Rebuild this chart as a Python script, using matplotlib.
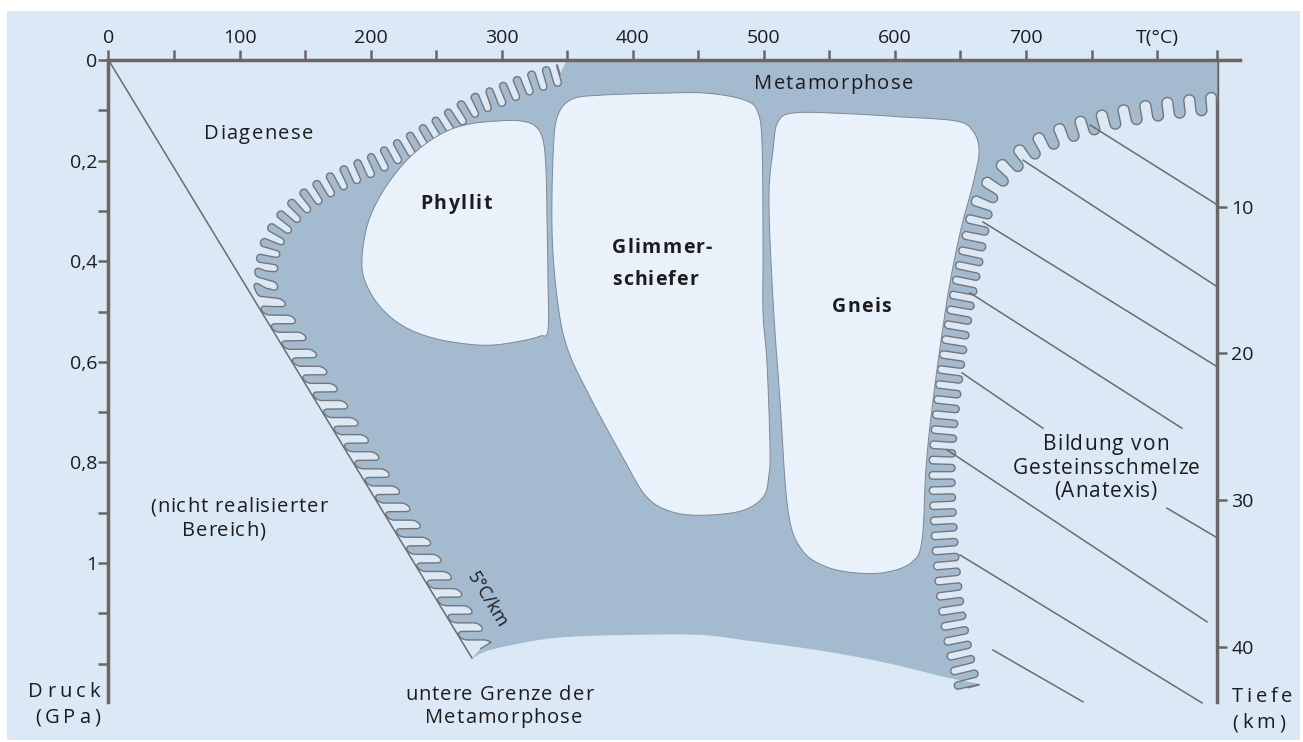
import numpy as np
import matplotlib
matplotlib.use("Agg")
import matplotlib.pyplot as plt
import matplotlib.transforms as mtransforms
from matplotlib.patches import Polygon, Rectangle
from matplotlib.font_manager import FontProperties, findfont, get_font

FONT = 'Open Sans'
plt.rcParams['font.family'] = [FONT, 'DejaVu Sans']

W, H, DPI = 1303, 742, 100

# ---------------- data (temperature in °C, pressure in GPa) ----------------
temp_ticks = [0, 100, 200, 300, 400, 500, 600, 700, 800]
temp_labels = ['0', '100', '200', '300', '400', '500', '600', '700', 'T(°C)']
temp_minor = [50, 150, 250, 350, 450, 550, 650, 750]
press_ticks = [0, 0.2, 0.4, 0.6, 0.8, 1.0]
press_labels = ['0', '0,2', '0,4', '0,6', '0,8', '1']
press_minor = [0.1, 0.3, 0.5, 0.7, 0.9, 1.1, 1.2]
depth_ticks = [10, 20, 30, 40]
depth_labels = ['10', '20', '30', '40']
KM_PER_GPA = 34.29
T_MAX, P_MAX = 863.3, 1.2763
T_DEPTH_AXIS = 846.0

# 5 °C/km line
geotherm_T = [0.0, 277.3]
geotherm_P = [0.0, 1.189]

# metamorphism field: upper-left corner on T axis
meta_top_T = 349.8

# anatexis (melting) boundary, from the right axis downwards
anat_T = [846.0, 817.5, 787.0, 756.5, 726.0, 703.1, 684.0, 672.6, 665.7, 658.9,
          651.2, 643.6, 638.3, 636.0, 637.5, 641.3, 647.4, 655.8]
anat_P = [0.0855, 0.0934, 0.105, 0.123, 0.149, 0.179, 0.219, 0.258, 0.298, 0.378,
          0.477, 0.596, 0.716, 0.815, 0.934, 1.054, 1.153, 1.248]

# lower limit of metamorphism (right -> left)
lower_T = [666.4, 642.0, 590.9, 540.6, 489.5, 451.3, 397.9, 349.8, 323.9, 291.1, 277.4]
lower_P = [1.241, 1.229, 1.197, 1.173, 1.155, 1.143, 1.143, 1.147, 1.155, 1.173, 1.189]

# diagenesis / metamorphism boundary (bottom -> top)
left_T = [284.0, 235.5, 189.2, 152.1, 124.4, 120.2, 122.5, 130.9, 148.4, 174.3,
          208.7, 249.1, 277.4, 297.2, 321.6, 344.5]
left_P = [1.170, 0.961, 0.762, 0.603, 0.484, 0.447, 0.382, 0.334, 0.284, 0.241,
          0.199, 0.139, 0.093, 0.072, 0.046, 0.028]

# rock fields
phyllit_T = [193.4, 196.5, 205.6, 220.9, 237.7, 256.8, 275.8, 298.7, 314.0, 325.4,
             331.5, 333.8, 334.6, 335.3, 335.3, 329.2, 314.0, 291.1, 268.2, 245.3,
             226.2, 211.0, 199.5]
phyllit_P = [0.412, 0.338, 0.278, 0.219, 0.175, 0.143, 0.127, 0.121, 0.121, 0.131,
             0.159, 0.219, 0.318, 0.437, 0.537, 0.549, 0.559, 0.567, 0.563, 0.551,
             0.531, 0.501, 0.461]
glimmer_T = [339.5, 343.0, 353.6, 375.0, 420.8, 456.7, 485.7, 495.6, 498.7, 499.4,
             499.4, 502.4, 504.7, 503.9, 499.4, 481.9, 449.0, 426.2, 409.4, 392.6,
             367.4, 349.8, 342.2, 338.4]
glimmer_P = [0.173, 0.109, 0.078, 0.070, 0.066, 0.066, 0.080, 0.105, 0.173, 0.372,
             0.503, 0.602, 0.769, 0.825, 0.869, 0.897, 0.905, 0.895, 0.865, 0.791,
             0.670, 0.571, 0.471, 0.338]
gneis_T = [507.0, 510.8, 523.8, 565.8, 603.9, 645.9, 658.9, 664.2, 659.7, 649.7,
           639.8, 629.1, 623.8, 620.7, 613.1, 594.0, 571.9, 548.2, 529.1, 518.4,
           512.3, 507.0, 503.9]
gneis_P = [0.179, 0.123, 0.105, 0.107, 0.113, 0.121, 0.139, 0.179, 0.245, 0.344,
           0.477, 0.676, 0.809, 0.954, 0.998, 1.018, 1.020, 1.008, 0.974, 0.895,
           0.676, 0.477, 0.278]

# melt-isolines in the anatexis field (start T, start P, end T, end P)
melt_T0 = [748.8, 697.7, 667.2, 657.3, 651.2, 807.6, 639.7, 649.7, 674.8]
melt_P0 = [0.129, 0.199, 0.322, 0.463, 0.622, 0.891, 0.775, 0.984, 1.173]
melt_T1 = [846.0, 846.0, 846.0, 819.0, 713.0, 846.0, 838.1, 834.3, 743.5]
melt_P1 = [0.288, 0.451, 0.610, 0.732, 0.732, 0.950, 1.117, 1.278, 1.276]

# texts: (string, left x px, baseline y px, width px, size pt, weight)
texts = [
    ('Diagenese', 204, 139, 109, 14.5, 'normal'),
    ('Metamorphose', 754, 89, 159, 14.5, 'normal'),
    ('Phyllit', 420, 209, 72, 14, 'bold'),
    ('Glimmer-', 612, 253, 100, 14, 'bold'),
    ('schiefer', 612, 285, 86, 14, 'bold'),
    ('Gneis', 832, 312, 59, 14, 'bold'),
    ('Bildung von', 1043, 450, 126, 15, 'normal'),
    ('Gesteinsschmelze', 1013, 474, 187, 15, 'normal'),
    ('(Anatexis)', 1054, 497, 103, 15, 'normal'),
    ('(nicht realisierter', 150, 512, 177, 14.5, 'normal'),
    ('Bereich)', 182, 536, 83, 14.5, 'normal'),
    ('untere Grenze der', 405, 700, 188, 14.5, 'normal'),
    ('Metamorphose', 425, 723, 157, 14.5, 'normal'),
    ('Druck', 28, 697, 72, 14.5, 'normal'),
    ('(GPa)', 35, 723, 65, 14.5, 'normal'),
    ('Tiefe', 1232, 702, 60, 14.5, 'normal'),
    ('(km)', 1232, 728, 53, 14.5, 'normal'),
]
geotherm_label = '5°C/km'

# ---------------- style ----------------
BG = '#dbe8f5'
META = '#a4bace'
ROCK = '#e9f1fa'
ROCK_EDGE = '#7f8893'
AXC = '#6b6563'
LINE = '#6e6b6b'
WAVE = '#74767b'
TXT = '#1c1c1c'

fig = plt.figure(figsize=(W / DPI, H / DPI), dpi=DPI, facecolor='white')
PX = mtransforms.Affine2D().scale(1, -1).translate(0, H)
fig.add_artist(Rectangle((7, 11), 1293, 729, transform=PX, facecolor=BG,
                         edgecolor='none', zorder=-10))

ax = fig.add_axes([108.5 / W, (H - 702) / H, (1240 - 108.5) / W, (702 - 60) / H])
ax.set_facecolor('none')
ax.set_xlim(0, T_MAX)
ax.set_ylim(P_MAX, 0)

# axes styling
ax.xaxis.tick_top()
ax.set_xticks(temp_ticks, temp_labels)
ax.set_xticks(temp_minor + [T_DEPTH_AXIS], minor=True)
ax.set_yticks(press_ticks, press_labels)
ax.set_yticks(press_minor, minor=True)
ax.tick_params(axis='x', which='both', direction='out', length=7.2, width=1.8,
               color=AXC, top=True, bottom=False, labeltop=True, labelbottom=False,
               pad=2.5, labelsize=14, labelcolor=TXT)
ax.tick_params(axis='y', which='both', direction='out', length=7.2, width=1.8,
               color=AXC, left=True, right=False, pad=1, labelsize=14, labelcolor=TXT)
for side in ('bottom', 'right'):
    ax.spines[side].set_visible(False)
for side in ('top', 'left'):
    ax.spines[side].set_linewidth(2.5)
    ax.spines[side].set_color(AXC)

sec = ax.secondary_yaxis(T_DEPTH_AXIS / T_MAX,
                         functions=(lambda p: p * KM_PER_GPA, lambda d: d / KM_PER_GPA))
sec.set_yticks(depth_ticks, depth_labels)
sec.tick_params(direction='out', length=7.2, width=1.8, color=AXC, labelsize=14,
                labelcolor=TXT, pad=3)
for side in ('left', 'right'):
    sec.spines[side].set_linewidth(2.5)
    sec.spines[side].set_color(AXC)


# ---------------- geometry helpers ----------------
def catmull_rom(P, closed=False, n=30):
    P = np.asarray(P, float)
    if closed:
        ext = np.vstack([P[-1], P, P[0], P[1]])
        nseg = len(P)
    else:
        ext = np.vstack([2 * P[0] - P[1], P, 2 * P[-1] - P[-2]])
        nseg = len(P) - 1
    t = np.linspace(0, 1, n, endpoint=False)[:, None]
    out, us = [], []
    for i in range(nseg):
        p0, p1, p2, p3 = ext[i], ext[i + 1], ext[i + 2], ext[i + 3]
        seg = 0.5 * (2 * p1 + (-p0 + p2) * t + (2 * p0 - 5 * p1 + 4 * p2 - p3) * t ** 2
                     + (-p0 + 3 * p1 - 3 * p2 + p3) * t ** 3)
        out.append(seg)
        us.append(i + t[:, 0])
    if closed:
        out.append(P[:1]); us.append(np.array([float(nseg)]))
    else:
        out.append(P[-1:]); us.append(np.array([float(nseg)]))
    return np.vstack(out), np.concatenate(us)


def smooth(T, P, closed=False):
    disp = ax.transData.transform(np.c_[T, P])
    xy, _ = catmull_rom(disp, closed=closed)
    return ax.transData.inverted().transform(xy)


def serpentine(T, P, knots, amps, lams, shears):
    """Meandering boundary (rounded finger lobes) around a smooth mid-line."""
    disp = ax.transData.transform(np.c_[T, P])
    xy, u = catmull_rom(disp)
    d = np.r_[0, np.cumsum(np.hypot(*np.diff(xy, axis=0).T))]
    L = d[-1]
    s = np.linspace(0, L, int(L * 2) + 2)
    mx, my = np.interp(s, d, xy[:, 0]), np.interp(s, d, xy[:, 1])
    uu = np.interp(s, d, u)
    tang = np.gradient(np.c_[mx, my], axis=0)
    tang /= np.hypot(tang[:, 0], tang[:, 1])[:, None]
    nrm = np.c_[tang[:, 1], -tang[:, 0]]
    th1 = np.linspace(np.pi, 0, 18)
    th2 = np.linspace(np.pi, 2 * np.pi, 18)
    lt, ln, lsh = [], [], []
    t0 = 0.0
    while t0 < L:
        uk = np.interp(t0, s, uu)
        a = np.interp(uk, knots, amps)
        lam = np.interp(uk, knots, lams)
        sh = np.interp(uk, knots, shears)
        r = lam / 4
        h = max(a - r, 0.0)
        pt = np.r_[t0, t0 + r + r * np.cos(th1), t0 + 3 * r + r * np.cos(th2)]
        pn = np.r_[0.0, h + r * np.sin(th1), -h + r * np.sin(th2)]
        lt.append(pt); ln.append(pn); lsh.append(np.full(pt.shape, sh))
        t0 += lam
    lt, ln, lsh = np.concatenate(lt), np.concatenate(ln), np.concatenate(lsh)
    keep = lt <= L
    lt, ln, lsh = np.r_[lt[keep], L], np.r_[ln[keep], 0.0], np.r_[lsh[keep], 0.0]
    te = np.clip(lt + lsh * ln, 0, L)
    bx, by = np.interp(te, s, mx), np.interp(te, s, my)
    nx, ny = np.interp(te, s, nrm[:, 0]), np.interp(te, s, nrm[:, 1])
    out = np.c_[bx + nx * ln, by + ny * ln]
    return ax.transData.inverted().transform(out)


# ---------------- metamorphism field ----------------
anat = serpentine(anat_T, anat_P, [0, 6, 9, 17], [11, 11, 13, 13], [22, 22, 15, 15],
                  [0, 0, 0, 0])
lower = smooth(lower_T, lower_P)
left = serpentine(left_T, left_P, [0, 4, 5.5, 15], [12, 12, 11, 11], [20, 20, 15, 15],
                  [-0.6, -0.6, 0, 0])
region = np.vstack([[meta_top_T, 0], [T_DEPTH_AXIS, 0], anat, lower, left])
ax.add_patch(Polygon(region, closed=True, facecolor=META, edgecolor='none', zorder=1))
ax.plot(anat[:, 0], anat[:, 1], color=WAVE, lw=1.0, zorder=2)
ax.plot(left[:, 0], left[:, 1], color=WAVE, lw=1.0, zorder=2)

# rock fields
for T, P in ((phyllit_T, phyllit_P), (glimmer_T, glimmer_P), (gneis_T, gneis_P)):
    xy = smooth(T, P, closed=True)
    ax.add_patch(Polygon(xy, closed=True, facecolor=ROCK, edgecolor=ROCK_EDGE,
                         lw=0.7, zorder=3))

# 5 °C/km line and melt lines
ax.plot(geotherm_T, geotherm_P, color=LINE, lw=1.1, zorder=4, clip_on=False)
for t0, p0, t1, p1 in zip(melt_T0, melt_P0, melt_T1, melt_P1):
    ax.plot([t0, t1], [p0, p1], color=LINE, lw=1.1, zorder=4, clip_on=False)


# ---------------- texts ----------------
def tracked_text(s, x_left, baseline, width, size, weight):
    prop = FontProperties(family=FONT, weight=weight, size=size)
    font = get_font(findfont(prop))
    font.set_size(size, DPI)
    adv = np.array([font.load_char(ord(c)).linearHoriAdvance / 65536 for c in s])
    track = (width - adv.sum()) / max(len(s) - 1, 1)
    xs = x_left + np.r_[0, np.cumsum(adv[:-1] + track)]
    for c, x in zip(s, xs):
        if c != ' ':
            fig.text(x, baseline, c, transform=PX, fontproperties=prop, color=TXT,
                     ha='left', va='baseline', zorder=6)


for s, x, y, w, size, weight in texts:
    tracked_text(s, x, y, w, size, weight)

fig.text(487, 600, geotherm_label, transform=PX, rotation=-58.7, rotation_mode='anchor',
         ha='center', va='center', fontsize=13, color=TXT, zorder=6)

fig.savefig('out.png', dpi=DPI, facecolor='white')
